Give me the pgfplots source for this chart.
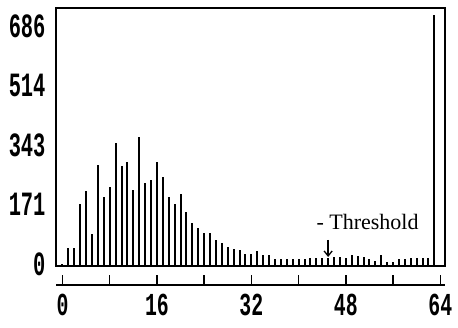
\documentclass[border=0pt]{standalone}
\usepackage{pgfplots}
\pgfplotsset{compat=1.18}
\usepackage{pgfplotstable}
\usetikzlibrary{arrows.meta}
\usepackage{fontspec}
\setmainfont{Liberation Serif}
\newfontfamily\tickfont{Liberation Mono}

\pgfplotstableread{
x y
0 5
1 53
2 53
3 179
4 217
5 93
6 292
7 198
8 229
9 355
10 287
11 301
12 219
13 373
14 238
15 248
16 301
17 258
18 198
19 179
20 209
21 157
22 124
23 111
24 95
25 95
26 74
27 65
28 55
29 50
30 45
31 36
32 34
33 43
34 31
35 31
36 21
37 21
38 21
39 21
40 21
41 21
42 24
43 24
44 24
45 24
46 26
47 26
48 24
49 31
50 28
51 26
52 21
53 14
54 31
55 12
56 12
57 21
58 21
59 24
60 24
61 24
62 24
63 723
}\histdata

\begin{document}
\begin{tikzpicture}[x=1pt,y=1pt]
\useasboundingbox (0,0) rectangle (458,327);
\begin{axis}[
  at={(56pt,61pt)}, anchor=south west,
  scale only axis, width=389pt, height=258pt,
  xmin=-1.1, xmax=64.8, ymin=0, ymax=744,
  xtick=\empty,
  ytick={0,171,343,514,686},
  yticklabels={0,171,343,514,686},
  major tick length=0pt,
  axis line style={line width=1.8pt},
  yticklabel style={font=\tickfont\bfseries\fontsize{34}{34}\selectfont, xscale=0.6, xshift=-14pt, yshift=2pt},
  /pgf/number format/assume math mode=true,
  clip=false]
\addplot[ycomb, line width=2pt, black, mark=none] table {\histdata};
\node[font=\fontsize{22}{22}\selectfont, anchor=west, inner sep=0pt] at (axis cs:43.0,127) {- Threshold};
\draw[-{Straight Barb[length=5pt,width=8pt]}, line width=1.3pt] (axis cs:45,75) -- (axis cs:45,26);
\end{axis}
\begin{axis}[
  at={(56pt,42pt)}, anchor=south west,
  scale only axis, width=389pt, height=20pt,
  xmin=-1.1, xmax=64.8, ymin=0, ymax=1,
  axis x line*=bottom, axis y line=none,
  xtick={0,8,...,64},
  xticklabels={0,,16,,32,,48,,64},
  tick align=inside, major tick length=10pt,
  tick style={line width=1.4pt, black},
  axis line style={line width=1.4pt,-},
  xticklabel style={font=\tickfont\bfseries\fontsize{32}{32}\selectfont, xscale=0.62, yshift=-6pt},
  /pgf/number format/assume math mode=true]
\addplot[draw=none] coordinates {(0,0)};
\end{axis}
\end{tikzpicture}
\end{document}
